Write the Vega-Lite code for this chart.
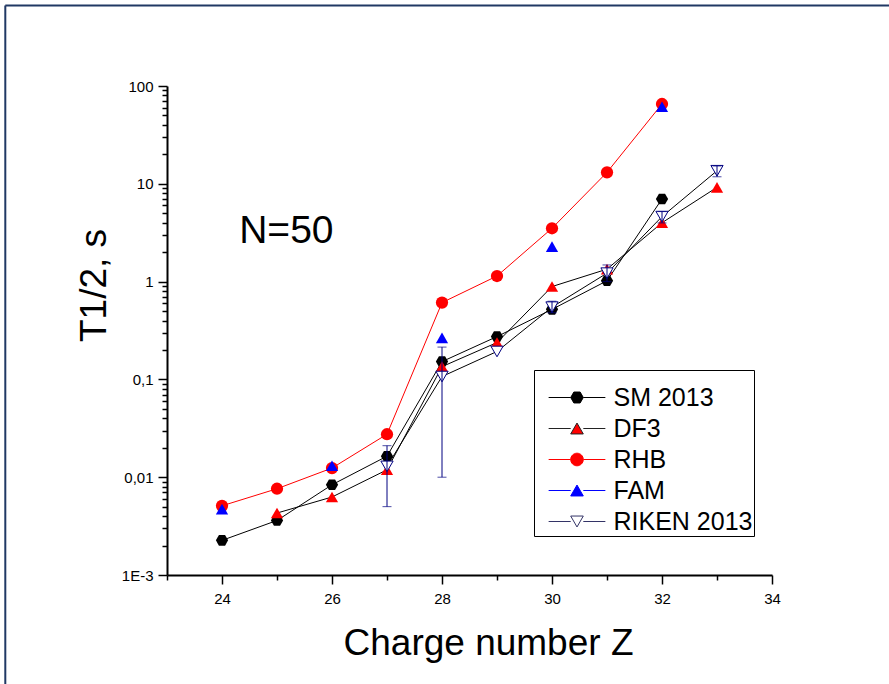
{
  "$schema": "https://vega.github.io/schema/vega-lite/v6.json",
  "width": 605,
  "height": 489,
  "autosize": {"type": "none"},
  "padding": {"left": 167, "top": 86, "right": 117, "bottom": 109},
  "background": "white",
  "config": {
    "view": {"stroke": null},
    "font": "Liberation Sans",
    "axis": {
      "grid": false,
      "domainColor": "black",
      "domainWidth": 2,
      "tickColor": "black",
      "tickWidth": 1.5,
      "labelFont": "Liberation Sans",
      "labelFontSize": 15,
      "labelColor": "black",
      "titleFont": "Liberation Sans",
      "titleFontSize": 37,
      "titleFontWeight": "normal",
      "titleColor": "black"
    },
    "legend": {"strokeWidth": 1}
  },
  "resolve": {"scale": {"shape": "independent", "fill": "independent", "stroke": "independent"}},
  "datasets": {
    "points": [
      {"z": 24, "series": "RHB", "t": 0.0051},
      {"z": 25, "series": "RHB", "t": 0.00762},
      {"z": 26, "series": "RHB", "t": 0.0124},
      {"z": 27, "series": "RHB", "t": 0.0275},
      {"z": 28, "series": "RHB", "t": 0.61},
      {"z": 29, "series": "RHB", "t": 1.14},
      {"z": 30, "series": "RHB", "t": 3.51},
      {"z": 31, "series": "RHB", "t": 13.1},
      {"z": 32, "series": "RHB", "t": 65.5},
      {"z": 24, "series": "SM 2013", "t": 0.00226},
      {"z": 25, "series": "SM 2013", "t": 0.00361},
      {"z": 26, "series": "SM 2013", "t": 0.00837},
      {"z": 27, "series": "SM 2013", "t": 0.0164},
      {"z": 28, "series": "SM 2013", "t": 0.152},
      {"z": 29, "series": "SM 2013", "t": 0.274},
      {"z": 30, "series": "SM 2013", "t": 0.52},
      {"z": 31, "series": "SM 2013", "t": 1.02},
      {"z": 32, "series": "SM 2013", "t": 7.0},
      {"z": 25, "series": "DF3", "t": 0.0043},
      {"z": 26, "series": "DF3", "t": 0.00627},
      {"z": 27, "series": "DF3", "t": 0.0119},
      {"z": 28, "series": "DF3", "t": 0.135},
      {"z": 29, "series": "DF3", "t": 0.238},
      {"z": 30, "series": "DF3", "t": 0.89},
      {"z": 31, "series": "DF3", "t": 1.34},
      {"z": 32, "series": "DF3", "t": 4.0},
      {"z": 33, "series": "DF3", "t": 9.2},
      {"z": 24, "series": "FAM", "t": 0.00472},
      {"z": 26, "series": "FAM", "t": 0.0131},
      {"z": 28, "series": "FAM", "t": 0.266},
      {"z": 30, "series": "FAM", "t": 2.28},
      {"z": 32, "series": "FAM", "t": 61.4},
      {"z": 27, "series": "RIKEN 2013", "t": 0.0129},
      {"z": 28, "series": "RIKEN 2013", "t": 0.107},
      {"z": 29, "series": "RIKEN 2013", "t": 0.193},
      {"z": 30, "series": "RIKEN 2013", "t": 0.548},
      {"z": 31, "series": "RIKEN 2013", "t": 1.22},
      {"z": 32, "series": "RIKEN 2013", "t": 4.62},
      {"z": 33, "series": "RIKEN 2013", "t": 13.6}
    ],
    "errors": [
      {"z": 27, "lo": 0.005, "hi": 0.021},
      {"z": 28, "lo": 0.01, "hi": 0.214},
      {"z": 30, "lo": 0.48, "hi": 0.63},
      {"z": 31, "lo": 1.0, "hi": 1.48},
      {"z": 32, "lo": 3.98, "hi": 5.2},
      {"z": 33, "lo": 11.8, "hi": 15.2}
    ]
  },
  "layer": [
    {
      "data": {"values": [{"frame": "top"}]},
      "mark": {"type": "rule", "color": "#203864", "strokeWidth": 2, "clip": false},
      "encoding": {
        "x": {"datum": 20.06, "type": "quantitative", "scale": {"domain": [23, 34], "nice": false, "zero": false}},
        "x2": {"datum": 37},
        "y": {"datum": 664.6, "type": "quantitative", "scale": {"type": "log", "domain": [0.001, 100], "nice": false}}
      }
    },
    {
      "data": {"values": [{"frame": "left"}]},
      "mark": {"type": "rule", "color": "#203864", "strokeWidth": 2, "clip": false},
      "encoding": {
        "x": {"datum": 20.06, "type": "quantitative", "scale": {"domain": [23, 34], "nice": false, "zero": false}},
        "y": {"datum": 664.6, "type": "quantitative", "scale": {"type": "log", "domain": [0.001, 100], "nice": false}},
        "y2": {"datum": 0.00001}
      }
    },
    {
      "data": {"name": "points"},
      "transform": [{"filter": "datum.series !== 'FAM'"}],
      "mark": {"type": "line", "strokeWidth": 1},
      "encoding": {
        "x": {
          "field": "z", "type": "quantitative",
          "scale": {"domain": [23, 34], "nice": false, "zero": false},
          "axis": {
            "values": [23, 24, 25, 26, 27, 28, 29, 30, 31, 32, 33, 34],
            "format": "d",
            "labelExpr": "datum.value % 2 === 0 ? datum.label : ''",
            "tickSize": {"condition": {"test": "datum.value % 2 === 0", "value": 9}, "value": 5},
            "labelPadding": 7,
            "labelFlush": false,
            "title": "Charge number Z",
            "titleX": 321,
            "titleY": 79,
            "titleBaseline": "alphabetic"
          }
        },
        "y": {
          "field": "t", "type": "quantitative",
          "scale": {"type": "log", "domain": [0.001, 100], "nice": false},
          "axis": {
            "values": [0.001, 0.002, 0.003, 0.004, 0.005, 0.006, 0.007, 0.008, 0.009, 0.01, 0.02, 0.03, 0.04, 0.05, 0.06, 0.07, 0.08, 0.09, 0.1, 0.2, 0.3, 0.4, 0.5, 0.6, 0.7, 0.8, 0.9, 1, 2, 3, 4, 5, 6, 7, 8, 9, 10, 20, 30, 40, 50, 60, 70, 80, 90, 100],
            "labelExpr": "datum.value === 100 ? '100' : datum.value === 10 ? '10' : datum.value === 1 ? '1' : datum.value === 0.1 ? '0,1' : datum.value === 0.01 ? '0,01' : datum.value === 0.001 ? '1E-3' : ''",
            "tickSize": {"condition": {"test": "datum.value === 100 || datum.value === 10 || datum.value === 1 || datum.value === 0.1 || datum.value === 0.01 || datum.value === 0.001", "value": 9}, "value": 5},
            "labelPadding": 5,
            "labelFlush": false,
            "labelOverlap": false,
            "title": "T1/2, s",
            "titleAngle": 270,
            "titleX": -62,
            "titleY": 199,
            "titleAlign": "center",
            "titleBaseline": "alphabetic"
          }
        },
        "stroke": {
          "field": "series", "type": "nominal",
          "scale": {"domain": ["SM 2013", "DF3", "RHB", "RIKEN 2013"], "range": ["black", "black", "#ff0000", "black"]},
          "legend": null
        },
        "detail": {"field": "series"}
      }
    },
    {
      "data": {"name": "points"},
      "mark": {"type": "point", "filled": true, "size": 150, "opacity": 1},
      "encoding": {
        "x": {"field": "z", "type": "quantitative", "scale": {"domain": [23, 34], "nice": false, "zero": false}},
        "y": {"field": "t", "type": "quantitative", "scale": {"type": "log", "domain": [0.001, 100], "nice": false}},
        "shape": {
          "field": "series", "type": "nominal",
          "scale": {"domain": ["SM 2013", "DF3", "RHB", "FAM", "RIKEN 2013"], "range": ["M-1,0L-0.5,-0.866L0.5,-0.866L1,0L0.5,0.866L-0.5,0.866Z", "triangle-up", "circle", "triangle-up", "triangle-down"]},
          "legend": null
        },
        "fill": {
          "field": "series", "type": "nominal",
          "scale": {"domain": ["SM 2013", "DF3", "RHB", "FAM", "RIKEN 2013"], "range": ["black", "#ff0000", "#ff0000", "#0000ff", "white"]},
          "legend": null
        },
        "stroke": {"condition": {"test": "datum.series === 'RIKEN 2013'", "value": "#000080"}, "value": null},
        "strokeWidth": {"value": 1}
      }
    },
    {
      "data": {"name": "points"},
      "transform": [{"filter": "false"}],
      "mark": {"type": "point", "filled": true, "size": 159, "opacity": 1, "strokeWidth": 1},
      "encoding": {
        "x": {"field": "z", "type": "quantitative", "scale": {"domain": [23, 34], "nice": false, "zero": false}},
        "y": {"field": "t", "type": "quantitative", "scale": {"type": "log", "domain": [0.001, 100], "nice": false}},
        "shape": {
          "field": "series", "type": "nominal",
          "scale": {
            "domain": ["SM 2013", "DF3", "RHB", "FAM", "RIKEN 2013"],
            "range": [
              "M-4.5,0L-1,0M1,0L4.5,0M-1,0L-0.5,-0.866L0.5,-0.866L1,0L0.5,0.866L-0.5,0.866Z",
              "M-4.5,0L-1,0M1,0L4.5,0M0,-0.866L-1,0.866L1,0.866Z",
              "M-4.5,0L-1,0M1,0L4.5,0M-1,0A1,1,0,1,1,1,0A1,1,0,1,1,-1,0Z",
              "M-4.5,0L-1,0M1,0L4.5,0M0,-0.866L-1,0.866L1,0.866Z",
              "M-4.5,0L-1,0M1,0L4.5,0M0,0.866L-1,-0.866L1,-0.866Z"
            ]
          },
          "legend": {
            "orient": "none",
            "legendX": 367,
            "legendY": 284,
            "title": " ",
            "titleFontSize": 10,
            "titlePadding": 4,
            "padding": 1,
            "strokeColor": "black",
            "fillColor": "white",
            "labelFont": "Liberation Sans",
            "labelFontSize": 25,
            "labelColor": "black",
            "labelLimit": 300,
            "symbolSize": 159,
            "symbolStrokeWidth": 1,
            "symbolOpacity": 1,
            "symbolOffset": 29.5,
            "labelOffset": 24,
            "rowPadding": 5
          }
        },
        "fill": {
          "field": "series", "type": "nominal",
          "scale": {"domain": ["SM 2013", "DF3", "RHB", "FAM", "RIKEN 2013"], "range": ["black", "#ff0000", "#ff0000", "#0000ff", "white"]}
        },
        "stroke": {
          "field": "series", "type": "nominal",
          "scale": {"domain": ["SM 2013", "DF3", "RHB", "FAM", "RIKEN 2013"], "range": ["black", "#222222", "#ff0000", "#0000ff", "#333366"]}
        }
      }
    },
    {
      "data": {"name": "errors"},
      "mark": {"type": "rule", "color": "#000080", "strokeWidth": 1},
      "encoding": {
        "x": {"field": "z", "type": "quantitative"},
        "y": {"field": "lo", "type": "quantitative"},
        "y2": {"field": "hi"}
      }
    },
    {
      "data": {"name": "errors"},
      "mark": {"type": "tick", "orient": "horizontal", "color": "#000080", "size": 9, "thickness": 1},
      "encoding": {
        "x": {"field": "z", "type": "quantitative"},
        "y": {"field": "lo", "type": "quantitative"}
      }
    },
    {
      "data": {"name": "errors"},
      "mark": {"type": "tick", "orient": "horizontal", "color": "#000080", "size": 9, "thickness": 1},
      "encoding": {
        "x": {"field": "z", "type": "quantitative"},
        "y": {"field": "hi", "type": "quantitative"}
      }
    },
    {
      "data": {"values": [{"label": "N=50"}]},
      "mark": {"type": "text", "font": "Liberation Sans", "fontSize": 39, "align": "center", "baseline": "alphabetic", "color": "black"},
      "encoding": {
        "x": {"datum": 25.17, "type": "quantitative"},
        "y": {"datum": 2.47, "type": "quantitative"},
        "text": {"field": "label"}
      }
    }
  ]
}
